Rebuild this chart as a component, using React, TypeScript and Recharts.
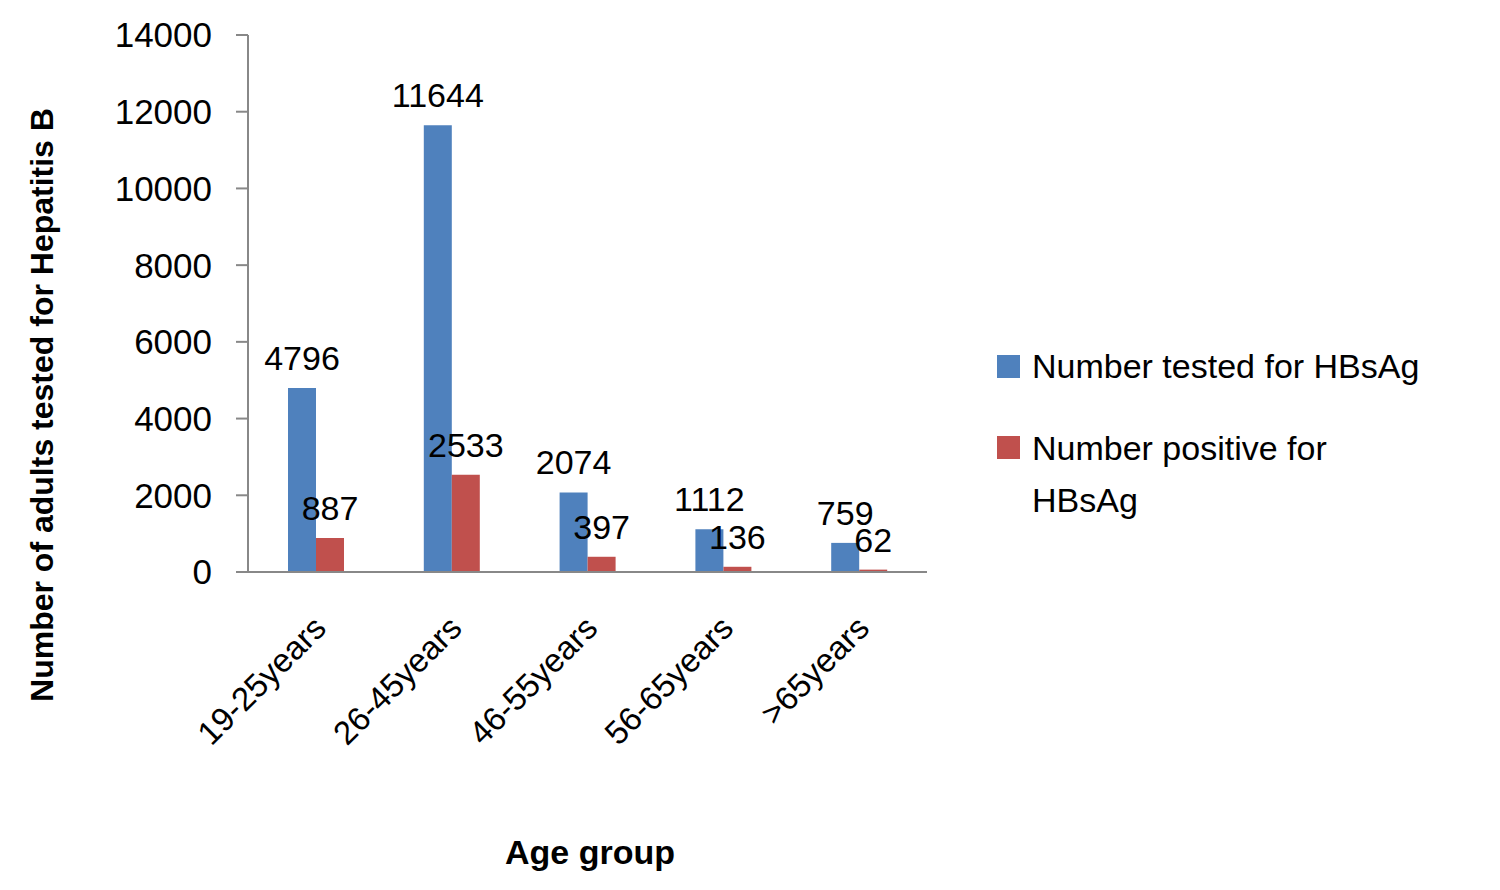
import { BarChart, Bar, XAxis, YAxis, LabelList } from "recharts";

const ageGroups = ["19-25years", "26-45years", "46-55years", "56-65years", ">65years"];
const tested = [4796, 11644, 2074, 1112, 759];
const positive = [887, 2533, 397, 136, 62];
const yTicks = [0, 2000, 4000, 6000, 8000, 10000, 12000, 14000];

const data = ageGroups.map((g, i) => ({ group: g, tested: tested[i], positive: positive[i] }));

const font = "'Liberation Sans', 'DejaVu Sans', sans-serif";

const AgeTick = (props: any) => {
  const { x, y, payload } = props;
  return (
    <g transform={`translate(${x + 12},${y + 50})`}>
      <text textAnchor="end" transform="rotate(-45)" fontSize={33} fill="#000" fontFamily={font}>
        {payload.value}
      </text>
    </g>
  );
};

export default function App() {
  return (
    <div style={{ position: "absolute", left: 0, top: 0, width: 1500, height: 890, background: "#fff" }}>
      <BarChart
        width={1500}
        height={890}
        data={data}
        margin={{ top: 35, right: 573, bottom: 0, left: 0 }}
        barSize={28}
        barGap={0}
      >
        <XAxis
          dataKey="group"
          height={318}
          tick={<AgeTick />}
          tickLine={false}
          axisLine={{ stroke: "#888", strokeWidth: 2 }}
          interval={0}
        />
        <YAxis
          width={248}
          domain={[0, 14000]}
          ticks={yTicks}
          tick={{ fontSize: 35, fill: "#000", fontFamily: font }}
          tickSize={12}
          tickMargin={24}
          tickLine={{ stroke: "#888", strokeWidth: 2 }}
          axisLine={{ stroke: "#888", strokeWidth: 2 }}
        />
        <Bar dataKey="tested" fill="#4F81BD" isAnimationActive={false}>
          <LabelList dataKey="tested" position="top" offset={18} fontSize={34} fill="#000" fontFamily={font} />
        </Bar>
        <Bar dataKey="positive" fill="#C0504D" isAnimationActive={false}>
          <LabelList dataKey="positive" position="top" offset={18} fontSize={34} fill="#000" fontFamily={font} />
        </Bar>
      </BarChart>
      <div style={{ position: "absolute", left: 997, top: 340, fontFamily: font, fontSize: 34, color: "#000", lineHeight: "52px" }}>
        <div style={{ display: "flex", alignItems: "center", marginBottom: 80 }}>
          <span style={{ width: 23, height: 23, background: "#4F81BD", marginRight: 12 }} />
          Number tested for HBsAg
        </div>
        <div style={{ display: "flex", alignItems: "flex-start", marginTop: -50 }}>
          <span style={{ width: 23, height: 23, background: "#C0504D", marginRight: 12, marginTop: 14 }} />
          <span>Number positive for<br />HBsAg</span>
        </div>
      </div>
      <div
        style={{
          position: "absolute", left: 42, top: 405, transform: "translate(-50%,-50%) rotate(-90deg)",
          whiteSpace: "nowrap", fontFamily: font, fontWeight: "bold", fontSize: 32,
        }}
      >
        Number of adults tested for Hepatitis B
      </div>
      <div
        style={{
          position: "absolute", left: 590, top: 852, transform: "translate(-50%,-50%)",
          fontFamily: font, fontWeight: "bold", fontSize: 34,
        }}
      >
        Age group
      </div>
    </div>
  );
}
